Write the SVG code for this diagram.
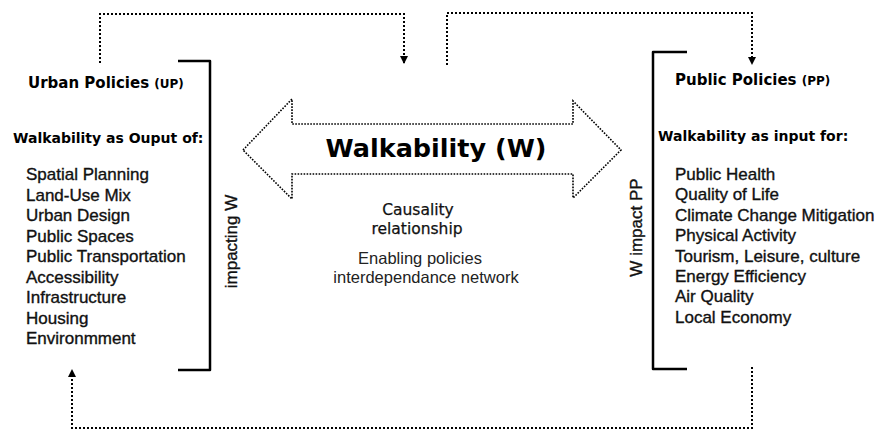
<svg xmlns="http://www.w3.org/2000/svg" width="885" height="433" viewBox="0 0 885 433">
<style>
  .dot { fill: none; stroke: #000; stroke-width: 2; stroke-dasharray: 2 2; }
  .bigarrow { fill: none; stroke: #000; stroke-width: 1.6; stroke-dasharray: 1.6 1.4; }
  .bracket { fill: none; stroke: #000; stroke-width: 2.5; stroke-linejoin: round; }
  .hdr { font-family: "DejaVu Sans", "Liberation Sans", sans-serif; font-weight: bold; fill: #000; }
  .item { font-family: "Liberation Sans", Arial, sans-serif; font-size: 17px; fill: #111; stroke: #111; stroke-width: 0.35; }
  .side { font-family: "Liberation Sans", Arial, sans-serif; font-size: 17px; fill: #111; stroke: #111; stroke-width: 0.35; text-anchor: middle; }
  .mid { font-family: "DejaVu Sans", sans-serif; font-size: 15.5px; fill: #111; stroke: #111; stroke-width: 0.25; text-anchor: middle; }
  .light { font-family: "Liberation Sans", Arial, sans-serif; font-size: 16.5px; fill: #222; text-anchor: middle; }
</style>
<defs>
  <marker id="ah" viewBox="0 0 8 8" refX="7" refY="4" markerWidth="8" markerHeight="8" markerUnits="userSpaceOnUse" orient="auto">
    <path d="M0,0 L8,4 L0,8 Z" fill="#000"/>
  </marker>
</defs>
<rect width="885" height="433" fill="#fff"/>

<g id="connectors">
  <path class="dot" d="M100,63 V14 H404 V63" marker-end="url(#ah)"/>
  <path class="dot" d="M447,65 V13 H752 V64" marker-end="url(#ah)"/>
  <path class="dot" d="M752,367 V428 H72 V370" marker-end="url(#ah)"/>
</g>

<g id="walkability">
  <path class="bigarrow" d="M243,150 L292,99 L292,124 L573,124 L573,101 L621,150 L573,198 L573,174 L292,174 L292,199 Z"/>
  <text class="hdr" x="436" y="157" font-size="25.5" text-anchor="middle">Walkability (W)</text>
  <text class="mid" x="418" y="215">Causality</text>
  <text class="mid" x="417" y="234">relationship</text>
  <text class="light" x="420" y="264">Enabling policies</text>
  <text class="light" x="426" y="283">interdependance network</text>
</g>

<g id="urban-policies">
  <text class="hdr" x="28" y="88" font-size="15">Urban Policies <tspan font-size="12">(UP)</tspan></text>
  <text class="hdr" x="13" y="143" font-size="14">Walkability as Ouput of:</text>
  <text class="item" x="26" y="180">Spatial Planning</text>
  <text class="item" x="26" y="200.5">Land-Use Mix</text>
  <text class="item" x="26" y="221">Urban Design</text>
  <text class="item" x="26" y="241.5">Public Spaces</text>
  <text class="item" x="26" y="262">Public Transportation</text>
  <text class="item" x="26" y="282.5">Accessibility</text>
  <text class="item" x="26" y="303">Infrastructure</text>
  <text class="item" x="26" y="323.5">Housing</text>
  <text class="item" x="26" y="344">Environmment</text>
  <path class="bracket" d="M178,61 H210 V370 H178"/>
  <text class="side" x="237" y="241.5" transform="rotate(-90 237 241.5)">impacting W</text>
</g>

<g id="public-policies">
  <text class="hdr" x="675" y="85" font-size="15">Public Policies <tspan font-size="12">(PP)</tspan></text>
  <text class="hdr" x="658" y="141" font-size="14">Walkability as input for:</text>
  <text class="item" x="675" y="180">Public Health</text>
  <text class="item" x="675" y="200.4">Quality of Life</text>
  <text class="item" x="675" y="220.8">Climate Change Mitigation</text>
  <text class="item" x="675" y="241.2">Physical Activity</text>
  <text class="item" x="675" y="261.6">Tourism, Leisure, culture</text>
  <text class="item" x="675" y="282">Energy Efficiency</text>
  <text class="item" x="675" y="302.4">Air Quality</text>
  <text class="item" x="675" y="323">Local Economy</text>
  <path class="bracket" d="M687,52 H653 V369 H687"/>
  <text class="side" x="642" y="227.5" transform="rotate(-90 642 227.5)">W impact PP</text>
</g>
</svg>
